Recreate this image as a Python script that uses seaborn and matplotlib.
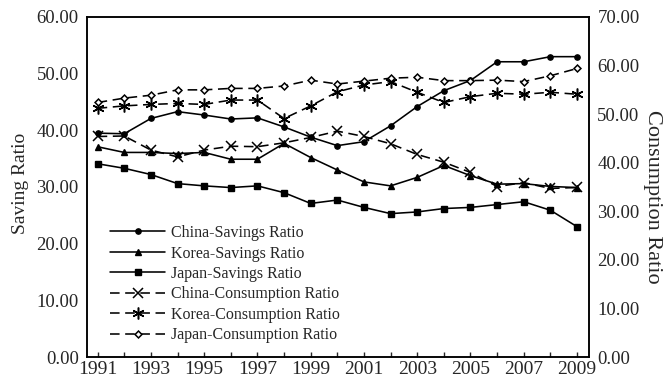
import matplotlib
matplotlib.use("Agg")
import matplotlib.pyplot as plt
import seaborn as sns
import numpy as np
import pandas as pd
from matplotlib.ticker import FixedLocator, MultipleLocator, FormatStrFormatter

years = list(range(1991, 2010))

china_saving = [39.5, 39.4, 42.1, 43.3, 42.7, 42.0, 42.2, 40.6, 38.8, 37.3,
                38.0, 40.8, 44.2, 47.0, 48.8, 52.1, 52.1, 53.0, 53.0]
korea_saving = [37.1, 36.1, 36.1, 35.9, 36.1, 34.9, 34.9, 37.7, 35.2, 33.0,
                30.9, 30.2, 31.7, 33.8, 32.0, 30.5, 30.6, 30.1, 29.9]
japan_saving = [34.1, 33.3, 32.2, 30.6, 30.2, 29.9, 30.2, 29.0, 27.1, 27.7,
                26.4, 25.3, 25.6, 26.2, 26.4, 26.9, 27.4, 25.9, 23.0]

china_consumption = [45.4, 45.5, 42.6, 41.2, 42.6, 43.4, 43.3, 44.1, 45.2, 46.5,
                     45.4, 43.9, 41.7, 40.1, 38.0, 35.1, 35.9, 34.7, 34.9]
korea_consumption = [51.2, 51.7, 52.0, 52.2, 52.0, 52.9, 52.9, 49.1, 51.7, 54.6,
                     56.0, 56.7, 54.5, 52.4, 53.6, 54.3, 54.1, 54.5, 54.1]
japan_consumption = [52.4, 53.3, 53.9, 55.0, 55.0, 55.3, 55.3, 55.8, 57.0, 56.2,
                     56.8, 57.4, 57.6, 56.9, 56.9, 57.0, 56.7, 57.9, 59.4]

saving_series = [
    ("China-Savings Ratio", china_saving, "o", 3.8, "black"),
    ("Korea-Savings Ratio", korea_saving, "^", 4.8, "black"),
    ("Japan-Savings Ratio", japan_saving, "s", 3.8, "black"),
]
consumption_series = [
    ("China-Consumption Ratio", china_consumption, "x", 7, "black"),
    ("Korea-Consumption Ratio", korea_consumption, (6, 2, 0), 8.5, "black"),
    ("Japan-Consumption Ratio", japan_consumption, "D", 3.5, "white"),
]

sns.set_style("white")
plt.rcParams["font.family"] = ["Liberation Serif", "DejaVu Serif"]
plt.rcParams["axes.edgecolor"] = "black"
plt.rcParams["axes.linewidth"] = 1.1

fig = plt.figure(figsize=(6.7, 3.82), dpi=100)
ax = fig.add_axes([87 / 670, 25 / 382, 502 / 670, 340 / 382])
ax2 = ax.twinx()

dash = (0, (6, 3.5))

for name, vals, mk, ms, face in saving_series:
    df = pd.DataFrame({"year": years, "value": vals})
    sns.lineplot(data=df, x="year", y="value", ax=ax, color="black",
                 linewidth=1.15, marker=mk, markersize=ms,
                 markerfacecolor=face, markeredgecolor="black",
                 markeredgewidth=1.0, label=name, legend=False)

for name, vals, mk, ms, face in consumption_series:
    df = pd.DataFrame({"year": years, "value": vals})
    sns.lineplot(data=df, x="year", y="value", ax=ax2, color="black",
                 linewidth=1.15, linestyle=dash, marker=mk, markersize=ms,
                 markerfacecolor=face, markeredgecolor="black",
                 markeredgewidth=1.1, label=name, legend=False)

ax.set_xlim(1990.6, 2009.45)
ax.set_ylim(0, 60)
ax2.set_ylim(0, 70)

ax.xaxis.set_major_locator(FixedLocator(years[::2]))
ax.xaxis.set_minor_locator(MultipleLocator(1))
ax.yaxis.set_major_locator(MultipleLocator(10))
ax2.yaxis.set_major_locator(MultipleLocator(10))
ax.yaxis.set_major_formatter(FormatStrFormatter("%.2f"))
ax2.yaxis.set_major_formatter(FormatStrFormatter("%.2f"))

ax.tick_params(axis="x", which="both", direction="in", length=3.5, width=1,
               labelsize=14, pad=3, bottom=True, top=False)
ax.tick_params(axis="y", length=0, labelsize=13.5, pad=6)
ax2.tick_params(axis="y", length=0, labelsize=13.5, pad=6)

ax.set_xlabel("")
ax.set_ylabel("Saving Ratio", fontsize=14)
ax.yaxis.set_label_coords(-0.116, 0.51)
ax2.set_ylabel("Consumption Ratio", fontsize=16, rotation=-90)
ax2.yaxis.set_label_coords(1.145, 0.47)

for a in (ax, ax2):
    for s in a.spines.values():
        s.set_visible(True)
        s.set_color("black")
        s.set_linewidth(1.1)

h1, l1 = ax.get_legend_handles_labels()
h2, l2 = ax2.get_legend_handles_labels()
ax2.legend(h1 + h2, l1 + l2, loc="lower left", bbox_to_anchor=(0.045, 0.04),
           frameon=False, fontsize=11.5, handlelength=3.5, handletextpad=0.35,
           labelspacing=0.28, borderpad=0, borderaxespad=0)

fig.savefig("out.png", dpi=100)
